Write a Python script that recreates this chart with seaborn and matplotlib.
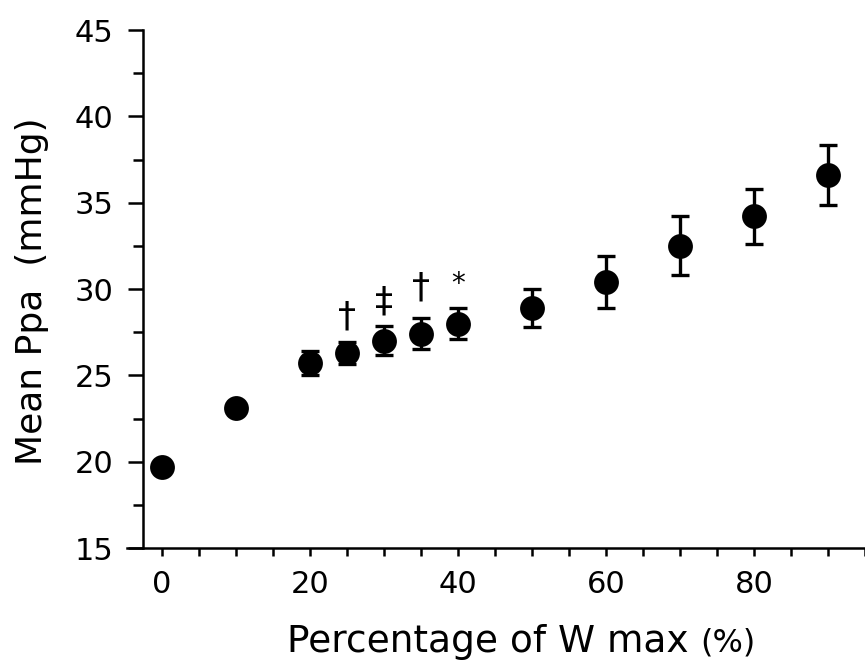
import matplotlib
matplotlib.use("Agg")
import matplotlib.pyplot as plt
import seaborn as sns
import pandas as pd
from matplotlib.ticker import MultipleLocator

workload = [0, 10, 20, 25, 30, 35, 40, 50, 60, 70, 80, 90]
mean_ppa = [19.7, 23.1, 25.7, 26.3, 27.0, 27.4, 28.0, 28.9, 30.4, 32.5, 34.2, 36.6]
err = [0.3, 0.35, 0.7, 0.65, 0.85, 0.9, 0.9, 1.1, 1.5, 1.7, 1.6, 1.75]
sig_x = [25, 30, 35, 40]
sig_labels = ["\u2020", "\u2021", "\u2020", "*"]
sig_y = [28.4, 29.3, 30.1, 30.3]

sns.set_style("ticks")
plt.rcParams["font.family"] = ["DejaVu Sans"]
for k in ["text.color", "axes.labelcolor", "xtick.color", "ytick.color", "axes.edgecolor"]:
    plt.rcParams[k] = "black"

df = pd.DataFrame({"x": workload, "y": mean_ppa, "e": err})

fig = plt.figure(figsize=(8.65, 6.67), dpi=100)
ax = fig.add_axes([0.1468, 0.1784, 0.8532, 0.7766])

ax.errorbar(df["x"], df["y"], yerr=df["e"], fmt="none", ecolor="black",
            elinewidth=2.4, capsize=6.5, capthick=2.4, zorder=2)
sns.scatterplot(data=df, x="x", y="y", ax=ax, color="black", s=320,
                edgecolor="black", linewidth=0, zorder=3, legend=False)

for xs, lab, ys in zip(sig_x, sig_labels, sig_y):
    ax.text(xs, ys, lab, ha="center", va="center",
            fontsize=26 if lab != "*" else 20, color="black")

ax.set_xlim(-4.73, 95.0)
ax.set_ylim(15, 45)
ax.spines["left"].set_position(("data", -2.6))
ax.spines["top"].set_visible(False)
ax.spines["right"].set_visible(False)
for s in ["left", "bottom"]:
    ax.spines[s].set_linewidth(1.8)

ax.set_xticks([0, 20, 40, 60, 80])
ax.xaxis.set_minor_locator(MultipleLocator(5))
ax.set_yticks([15, 20, 25, 30, 35, 40, 45])
ax.yaxis.set_minor_locator(MultipleLocator(2.5))
ax.tick_params(axis="x", which="both", direction="out", length=6, width=1.8,
               labelsize=22, pad=10)
ax.tick_params(axis="y", which="major", direction="out", length=11, width=1.8,
               labelsize=22, pad=10)
ax.tick_params(axis="y", which="minor", direction="out", length=7, width=1.8)

ax.set_xlabel("")
ax.set_ylabel("")
t1 = fig.text(287 / 865, 0.0225, "Percentage of W max ", fontsize=27,
              ha="left", va="baseline")
fig.canvas.draw()
bb = t1.get_window_extent()
fig.text(bb.x1 / fig.bbox.width, 0.0225, "(%)", fontsize=23,
         ha="left", va="baseline")
fig.text(0.037, 0.563, "Mean Ppa  (mmHg)", fontsize=26, rotation=90,
         ha="center", va="center")

fig.savefig("out.png", dpi=100)
